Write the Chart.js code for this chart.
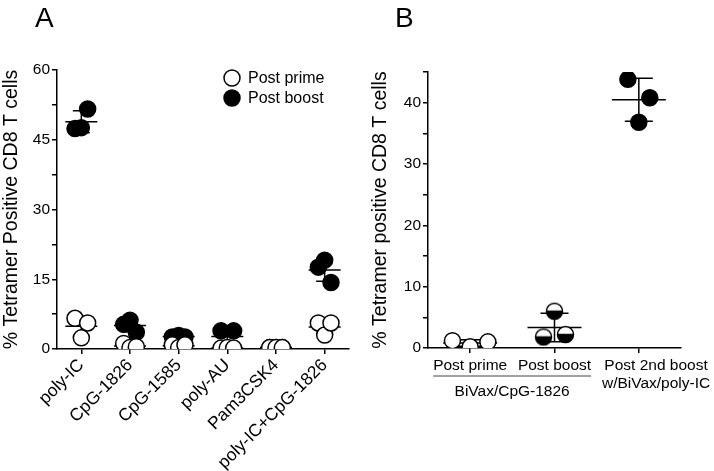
<!DOCTYPE html>
<html>
<head>
<meta charset="utf-8">
<script src="https://cdn.jsdelivr.net/npm/chart.js@4"></script>
<style>
  body { margin: 0; background: #fff; }
  #wrapA { position: absolute; left: 0; top: 0; width: 360px; height: 471px; }
  #wrapB { position: absolute; left: 360px; top: 0; width: 354px; height: 471px; }
</style>
</head>
<body>
<div id="wrapA"><canvas id="chartA" width="360" height="471"></canvas></div>
<div id="wrapB"><canvas id="chartB" width="354" height="471"></canvas></div>
<script>
// panel A: adjuvant comparison
const adjuvants = ["poly-IC", "CpG-1826", "CpG-1585", "poly-AU", "Pam3CSK4", "poly-IC+CpG-1826"];
const postPrimeA = [
  [6.6, 2.4, 5.6],
  [1.2, 0.3, 0.5],
  [0.9, 0.3, 0.9],
  [0.2, 0.3, 0.2],
  [0.3, 0.3, 0.3],
  [5.6, 3.0, 5.6],
];
const postBoostA = [
  [47.4, 47.6, 51.6],
  [5.3, 6.2, 3.6],
  [2.6, 2.9, 2.6],
  [3.9, 0.2, 3.9],
  [0.3, 0.3, 0.3],
  [17.6, 19.1, 14.3],
];
const yTicksA = [0, 15, 30, 45, 60];

// panel B: BiVax groups
const groupsB = ["Post prime", "Post boost", "Post 2nd boost"];
const valuesB = [
  [1.2, 0.2, 1.0],
  [1.8, 6.0, 2.2],
  [43.8, 36.8, 40.8],
];
const yTicksB = [0, 10, 20, 30, 40];

Chart.defaults.font.family = "'Liberation Sans', Arial, Helvetica, sans-serif";
Chart.defaults.color = "#000";

const R = 8;

function mean(a) { return a.reduce((s, v) => s + v, 0) / a.length; }
function sd(a) {
  const m = mean(a);
  return Math.sqrt(a.reduce((s, v) => s + (v - m) * (v - m), 0) / (a.length - 1));
}

// spread the replicates of a group around the category centre
function toPoints(groups, spread, start) {
  const pts = [];
  groups.forEach((vals, i) => {
    vals.forEach((v, j) => {
      pts.push({ x: (start || 0) + i + (j - (vals.length - 1) / 2) * spread, y: v });
    });
  });
  return pts;
}

// mean line + SD whiskers, drawn under the points
function errorBars(series, meanHalf, capHalf) {
  return {
    id: "errorBars",
    beforeDatasetsDraw(chart) {
      const { ctx, scales: { x, y } } = chart;
      ctx.save();
      ctx.strokeStyle = "#000";
      ctx.lineWidth = 1.5;
      series.forEach(([pos, vals]) => {
        const m = mean(vals), s = sd(vals);
        const cx = x.getPixelForValue(pos);
        const ym = y.getPixelForValue(m);
        const yt = y.getPixelForValue(m + s);
        const yb = y.getPixelForValue(Math.max(0, m - s));
        ctx.beginPath();
        ctx.moveTo(cx - meanHalf, ym); ctx.lineTo(cx + meanHalf, ym);
        ctx.moveTo(cx, yt); ctx.lineTo(cx, yb);
        ctx.moveTo(cx - capHalf, yt); ctx.lineTo(cx + capHalf, yt);
        ctx.moveTo(cx - capHalf, yb); ctx.lineTo(cx + capHalf, yb);
        ctx.stroke();
      });
      ctx.restore();
    }
  };
}

function panelLetter(letter) {
  return {
    id: "panelLetter",
    afterDraw(chart) {
      const ctx = chart.ctx;
      ctx.save();
      ctx.font = "28px 'Liberation Sans', Arial, sans-serif";
      ctx.fillStyle = "#000";
      ctx.textBaseline = "alphabetic";
      ctx.fillText(letter, 35, 27);
      ctx.restore();
    }
  };
}

const legendA = {
  id: "legendA",
  afterDraw(chart) {
    const ctx = chart.ctx;
    ctx.save();
    ctx.lineWidth = 1.5;
    ctx.strokeStyle = "#000";
    [["Post prime", "#fff", 78], ["Post boost", "#000", 98]].forEach(([t, fill, yy]) => {
      ctx.beginPath();
      ctx.arc(232, yy, R, 0, Math.PI * 2);
      ctx.fillStyle = fill;
      ctx.fill();
      ctx.stroke();
      ctx.fillStyle = "#000";
      ctx.font = "16px 'Liberation Sans', Arial, sans-serif";
      ctx.textBaseline = "middle";
      ctx.fillText(t, 248, yy + 1);
    });
    ctx.restore();
  }
};

function yAxis(max, step, labelled, title, width) {
  return {
    min: 0,
    max: max,
    afterFit: s => { s.width = width; },
    border: { color: "#000", width: 1.5 },
    grid: { drawOnChartArea: false, drawTicks: true, tickLength: 5, color: "#000", lineWidth: 1.5 },
    ticks: {
      stepSize: step,
      autoSkip: false,
      padding: 2,
      font: { size: 15.5 },
      callback: v => (labelled.includes(v) ? v : "")
    },
    title: { display: true, text: title, font: { size: 19.5 }, padding: { top: 0, bottom: 0 } }
  };
}

function openStyle() {
  return { pointRadius: R, pointHoverRadius: R, backgroundColor: "#fff", borderColor: "#000", borderWidth: 1.5 };
}
function filledStyle() {
  return { pointRadius: R, pointHoverRadius: R, backgroundColor: "#000", borderColor: "#000", borderWidth: 1.5 };
}

new Chart(document.getElementById("chartA"), {
  type: "scatter",
  data: {
    datasets: [
      Object.assign({ label: "Post prime", data: toPoints(postPrimeA, 0.13) }, openStyle()),
      Object.assign({ label: "Post boost", data: toPoints(postBoostA, 0.13) }, filledStyle()),
    ],
  },
  options: {
    responsive: false,
    animation: false,
    devicePixelRatio: 1,
    layout: { padding: { top: 70, right: 11, left: 0, bottom: 0 } },
    plugins: { legend: { display: false }, tooltip: { enabled: false } },
    scales: {
      x: {
        type: "linear",
        min: -0.5,
        max: adjuvants.length - 0.5,
        afterBuildTicks: s => { s.ticks = adjuvants.map((c, i) => ({ value: i })); },
        afterFit: s => { s.height = 122; s.paddingLeft = 0; s.paddingRight = 0; },
        border: { color: "#000", width: 1.5 },
        grid: { drawOnChartArea: false, drawTicks: true, tickLength: 5, color: "#000", lineWidth: 1.5 },
        ticks: {
          autoSkip: false,
          maxRotation: 45,
          minRotation: 45,
          padding: 1,
          font: { size: 17.5 },
          callback: v => adjuvants[v]
        }
      },
      y: yAxis(60, 7.5, yTicksA, "% Tetramer Positive CD8 T cells", 57)
    }
  },
  plugins: [
    errorBars(postBoostA.map((v, i) => [i, v]).concat(postPrimeA.map((v, i) => [i, v])), 16, 8.5),
    legendA,
    panelLetter("A")
  ]
});

// half white / half black marker for the B "Post boost" group
function halfMarker(r) {
  const c = document.createElement("canvas");
  const size = Math.ceil(r * 2 + 3);
  c.width = size; c.height = size;
  const g = c.getContext("2d");
  const m = size / 2;
  g.fillStyle = "#fff";
  g.beginPath(); g.arc(m, m, r, Math.PI, 0); g.fill();
  g.fillStyle = "#000";
  g.beginPath(); g.arc(m, m, r, 0, Math.PI); g.fill();
  g.lineWidth = 1.5;
  g.strokeStyle = "#000";
  g.beginPath(); g.arc(m, m, r, 0, Math.PI * 2); g.stroke();
  g.beginPath(); g.moveTo(m - r, m); g.lineTo(m + r, m); g.stroke();
  return c;
}

const xLabelsB = [
  "Post prime",
  "Post boost",
  ["        Post 2nd boost", "        w/BiVax/poly-IC"],
];

const groupLabelB = {
  id: "groupLabelB",
  afterDraw(chart) {
    const { ctx, scales: { x, y } } = chart;
    ctx.save();
    ctx.font = "15.5px 'Liberation Sans', Arial, sans-serif";
    const x0 = x.getPixelForValue(0) - ctx.measureText(groupsB[0]).width / 2;
    const x1 = x.getPixelForValue(1) + ctx.measureText(groupsB[1]).width / 2;
    const yl = y.bottom + 28;
    ctx.strokeStyle = "#444";
    ctx.lineWidth = 1;
    ctx.beginPath(); ctx.moveTo(x0, yl); ctx.lineTo(x1, yl); ctx.stroke();
    ctx.fillStyle = "#000";
    ctx.textAlign = "center";
    ctx.textBaseline = "alphabetic";
    ctx.fillText("BiVax/CpG-1826", (x0 + x1) / 2, yl + 20);
    ctx.restore();
  }
};

new Chart(document.getElementById("chartB"), {
  type: "scatter",
  data: {
    datasets: [
      Object.assign({ label: "Post prime", data: toPoints([valuesB[0]], 0.21, 0) }, openStyle()),
      {
        label: "Post boost",
        data: toPoints([valuesB[1]], 0.13, 1),
        pointStyle: halfMarker(R),
        pointRadius: R,
      },
      Object.assign({ label: "Post 2nd boost", data: toPoints([valuesB[2]], 0.13, 2) }, filledStyle()),
    ],
  },
  options: {
    responsive: false,
    animation: false,
    devicePixelRatio: 1,
    layout: { padding: { top: 72, right: 33, left: 9, bottom: 0 } },
    plugins: { legend: { display: false }, tooltip: { enabled: false } },
    scales: {
      x: {
        type: "linear",
        min: -0.5,
        max: groupsB.length - 0.5,
        afterBuildTicks: s => { s.ticks = groupsB.map((c, i) => ({ value: i })); },
        afterFit: s => { s.height = 123; s.paddingLeft = 0; s.paddingRight = 0; },
        border: { color: "#000", width: 1.5 },
        grid: { drawOnChartArea: false, drawTicks: true, tickLength: 5, color: "#000", lineWidth: 1.5 },
        ticks: {
          autoSkip: false,
          maxRotation: 0,
          minRotation: 0,
          padding: 4,
          font: { size: 15.5, lineHeight: 1.15 },
          callback: v => xLabelsB[v]
        }
      },
      y: yAxis(45, 5, yTicksB, "% Tetramer positive CD8 T cells", 59)
    }
  },
  plugins: [errorBars(valuesB.map((v, i) => [i, v]), 27, 14), groupLabelB, panelLetter("B")]
});
</script>
</body>
</html>
